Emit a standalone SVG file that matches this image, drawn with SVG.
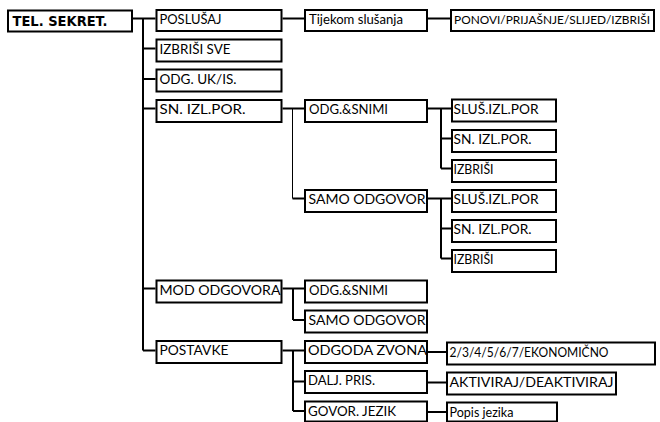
<svg xmlns="http://www.w3.org/2000/svg" width="660" height="422" viewBox="0 0 660 422">
<style>
.b{fill:#fff;stroke:#000;stroke-width:2}
.t{font-family:Lato,"Open Sans","Liberation Sans",sans-serif;font-size:14px;fill:#000}
.s{font-size:12.3px}
.tb{font-family:"DejaVu Sans","Liberation Sans",sans-serif;font-weight:bold;font-size:13.5px;fill:#000}
.c{stroke:#000;stroke-width:2;fill:none}
.thin{stroke:#000;stroke-width:1;fill:none}
</style>
<rect width="660" height="422" fill="#fff"/>
<g id="connectors">
<path class="c" d="M133 18.5H155.5M143 18.5V350.5M143 48.5H155.5M143 79H155.5M143 108.5H155.5M143 288.5H155.5M143 350.5H155.5"/>
<path class="c" d="M282.5 18.5H304M428 18.5H450"/>
<path class="c" d="M282.5 108.5H304M292.5 198.5H304"/>
<path class="thin" d="M292.5 108.5V198.5"/>
<path class="c" d="M428 108.5H451M441 108.5V168.5M441 138.5H451M441 168.5H451"/>
<path class="c" d="M428 198.5H451M441 198.5V258.5M441 228.5H451M441 258.5H451"/>
<path class="c" d="M282.5 288.5H304M293 288.5V320M293 320H304"/>
<path class="c" d="M282.5 350.5H304M293 350.5V411M293 381.5H304M293 411H304"/>
<path class="c" d="M428 352H446M428 382.5H446M428 412H446"/>
</g>
<g id="n-tel"><rect class="b" x="8" y="10.5" width="124" height="21"/><text class="tb" x="12.5" y="25.5" textLength="95" lengthAdjust="spacingAndGlyphs">TEL. SEKRET.</text></g>
<g id="n-poslusaj"><rect class="b" x="156.5" y="10" width="125" height="21"/><text class="t" x="159.5" y="24" textLength="62" lengthAdjust="spacingAndGlyphs">POSLUŠAJ</text></g>
<g id="n-izbrisisve"><rect class="b" x="156.5" y="39.5" width="125" height="22"/><text class="t" x="159.5" y="53.5" textLength="71" lengthAdjust="spacingAndGlyphs">IZBRIŠI SVE</text></g>
<g id="n-odguk"><rect class="b" x="156.5" y="69.5" width="125" height="22"/><text class="t" x="159.5" y="83.5" textLength="77" lengthAdjust="spacingAndGlyphs">ODG. UK/IS.</text></g>
<g id="n-snizl"><rect class="b" x="156.5" y="100" width="125" height="22"/><text class="t" x="159.5" y="114" textLength="86" lengthAdjust="spacingAndGlyphs">SN. IZL.POR.</text></g>
<g id="n-mod"><rect class="b" x="156.5" y="280.5" width="125" height="22"/><text class="t" x="159.5" y="294.5" textLength="121" lengthAdjust="spacingAndGlyphs">MOD ODGOVORA</text></g>
<g id="n-postavke"><rect class="b" x="156.5" y="341" width="125" height="22"/><text class="t" x="159.5" y="355" textLength="69" lengthAdjust="spacingAndGlyphs">POSTAVKE</text></g>
<g id="n-tijekom"><rect class="b" x="305" y="10" width="122" height="21"/><text class="t" x="309" y="24" textLength="94" lengthAdjust="spacingAndGlyphs">Tijekom slušanja</text></g>
<g id="n-ponovi"><rect class="b" x="451" y="10" width="203" height="21"/><text class="t s" x="454" y="24" textLength="196" lengthAdjust="spacingAndGlyphs">PONOVI/PRIJAŠNJE/SLIJED/IZBRIŠI</text></g>
<g id="n-odgsnimi1"><rect class="b" x="305" y="100" width="122" height="22"/><text class="t" x="309" y="114" textLength="79" lengthAdjust="spacingAndGlyphs">ODG.&amp;SNIMI</text></g>
<g id="n-samo1"><rect class="b" x="305" y="190" width="122" height="22"/><text class="t" x="308.5" y="204" textLength="117" lengthAdjust="spacingAndGlyphs">SAMO ODGOVOR</text></g>
<g id="n-slus1"><rect class="b" x="452" y="99.5" width="104" height="22"/><text class="t" x="453.5" y="114" textLength="85" lengthAdjust="spacingAndGlyphs">SLUŠ.IZL.POR</text></g>
<g id="n-sn1"><rect class="b" x="452" y="130" width="104" height="22"/><text class="t" x="453.5" y="144" textLength="78" lengthAdjust="spacingAndGlyphs">SN. IZL.POR.</text></g>
<g id="n-izb1"><rect class="b" x="452" y="160" width="104" height="22"/><text class="t" x="453.5" y="174" textLength="40" lengthAdjust="spacingAndGlyphs">IZBRIŠI</text></g>
<g id="n-slus2"><rect class="b" x="452" y="190" width="104" height="22"/><text class="t" x="453.5" y="204" textLength="85" lengthAdjust="spacingAndGlyphs">SLUŠ.IZL.POR</text></g>
<g id="n-sn2"><rect class="b" x="452" y="220" width="104" height="22"/><text class="t" x="453.5" y="234" textLength="78" lengthAdjust="spacingAndGlyphs">SN. IZL.POR.</text></g>
<g id="n-izb2"><rect class="b" x="452" y="250" width="104" height="22"/><text class="t" x="453.5" y="264" textLength="40" lengthAdjust="spacingAndGlyphs">IZBRIŠI</text></g>
<g id="n-odgsnimi2"><rect class="b" x="305" y="280.5" width="122" height="22"/><text class="t" x="309" y="294.5" textLength="79" lengthAdjust="spacingAndGlyphs">ODG.&amp;SNIMI</text></g>
<g id="n-samo2"><rect class="b" x="305" y="310.5" width="122" height="22"/><text class="t" x="308.5" y="324.5" textLength="117" lengthAdjust="spacingAndGlyphs">SAMO ODGOVOR</text></g>
<g id="n-odgoda"><rect class="b" x="305" y="341" width="122" height="22"/><text class="t" x="308" y="355" textLength="119" lengthAdjust="spacingAndGlyphs">ODGODA ZVONA</text></g>
<g id="n-dalj"><rect class="b" x="305" y="371" width="122" height="22"/><text class="t" x="308" y="385" textLength="67" lengthAdjust="spacingAndGlyphs">DALJ. PRIS.</text></g>
<g id="n-govor"><rect class="b" x="305" y="401.5" width="122" height="20"/><text class="t" x="308" y="415.5" textLength="88" lengthAdjust="spacingAndGlyphs">GOVOR. JEZIK</text></g>
<g id="n-eko"><rect class="b" x="447" y="342.5" width="208" height="22"/><text class="t" x="449.5" y="356.5" textLength="159" lengthAdjust="spacingAndGlyphs">2/3/4/5/6/7/EKONOMIČNO</text></g>
<g id="n-akt"><rect class="b" x="447" y="372.5" width="169" height="22"/><text class="t" x="449.5" y="386.5" textLength="164" lengthAdjust="spacingAndGlyphs">AKTIVIRAJ/DEAKTIVIRAJ</text></g>
<g id="n-popis"><rect class="b" x="447" y="402.5" width="110" height="19"/><text class="t" x="449.5" y="416.5" textLength="64" lengthAdjust="spacingAndGlyphs">Popis jezika</text></g>
</svg>
